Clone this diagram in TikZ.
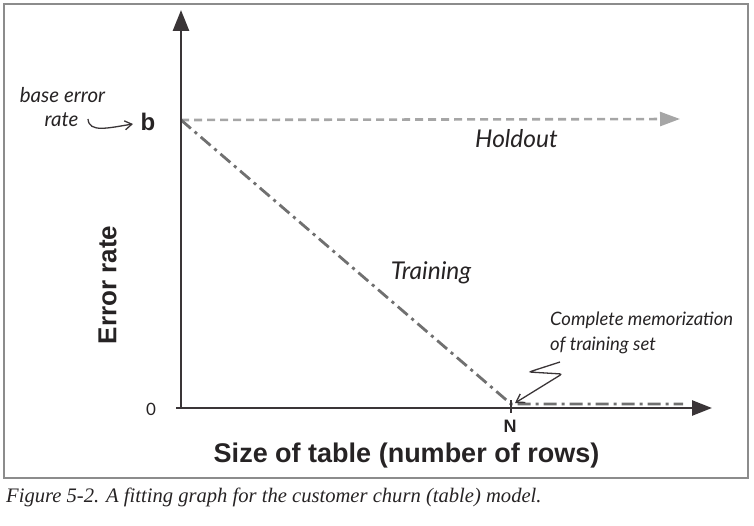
\documentclass[tikz,border=0pt]{standalone}
\usepackage{fontspec}
\setmainfont{Liberation Serif}
\setsansfont{Liberation Sans}
\newfontfamily\gill{Lato}
\usetikzlibrary{arrows.meta}
\definecolor{axiscol}{HTML}{3A3537}
\definecolor{textcol}{HTML}{262324}
\definecolor{traincol}{HTML}{707070}
\definecolor{holdcol}{HTML}{A6A6A6}
\definecolor{framecol}{HTML}{8C8C8C}
\begin{document}
\begin{tikzpicture}[x=1bp,y=-1bp,
  axisline/.style={line width=2.6bp, draw=axiscol},
  trainline/.style={line width=2.8bp, draw=traincol, dash pattern=on 13bp off 5bp on 3bp off 5bp},
  holdline/.style={line width=2.6bp, draw=holdcol, dash pattern=on 8bp off 5bp},
  note/.style={line width=1.3bp, draw=axiscol},
  lbl/.style={inner sep=0pt, anchor=base, text=textcol},
  gilli/.style={lbl, font=\gill\itshape\fontsize{24.5bp}{28bp}\selectfont},
  gills/.style={lbl, font=\gill\itshape\fontsize{18.5bp}{22bp}\selectfont},
  gillb/.style={lbl, font=\gill\itshape\fontsize{20.5bp}{24bp}\selectfont},
  boldlbl/.style={lbl, font=\sffamily\bfseries}
]
\useasboundingbox (0,0) rectangle (754,526);
\draw[framecol, line width=1.3bp] (4,4) rectangle (748,478);

% key points
\coordinate (orig) at (181,408);
\coordinate (ytip) at (181,10);
\coordinate (xstart) at (176,408);
\coordinate (xtip) at (712,408);
\coordinate (bpt) at (181,120);
\coordinate (htip) at (680,119);
\coordinate (npt) at (511,404);
\coordinate (tend) at (683,404);
\coordinate (ntop) at (511,400);
\coordinate (nbot) at (511,413);

% data lines
\draw[holdline, -{Triangle[length=20bp,width=14bp,fill=holdcol]}] (bpt) -- (htip);
\draw[trainline] (bpt) -- (npt) -- (tend);

% axes
\draw[axisline, -{Triangle[length=21bp,width=16bp,fill=axiscol]}] (orig) -- (ytip);
\draw[axisline, -{Triangle[length=20bp,width=15bp,fill=axiscol]}] (xstart) -- (xtip);
\draw[axisline, line width=1.6bp] (ntop) -- (nbot);

% labels
\node[boldlbl, font=\sffamily\bfseries\fontsize{24bp}{28bp}\selectfont] (b) at (148,131) {b};
\node[lbl, font=\gill\fontsize{17bp}{20bp}\selectfont] (zero) at (151,415) {0};
\node[boldlbl, font=\sffamily\bfseries\fontsize{18bp}{22bp}\selectfont] (N) at (510,432) {N};
\node[boldlbl, font=\sffamily\bfseries\fontsize{27bp}{32bp}\selectfont] (xlab) at (406.5,462) {Size of table (number of rows)};
\node[inner sep=0pt, text=textcol, rotate=90, font=\sffamily\bfseries\fontsize{26bp}{30bp}\selectfont] (ylab) at (107.5,285) {Error rate};
\node[gilli] (hold) at (516.5,148) {Holdout};
\node[gilli] (train) at (431,280) {Training};
\node[gills, anchor=base west] (cm1) at (550,325) {Complete memorization};
\node[gills, anchor=base west] (cm2) at (550,350) {of training set};
\node[gillb] (ber1) at (62.5,103) {base error};
\node[gillb] (ber2) at (61.5,127) {rate};

% annotation arrows
\coordinate (ra) at (88,119);
\coordinate (rb) at (133,124);
\draw[note, -{Straight Barb[length=7bp,width=9bp]}] (ra) .. controls (89,133) and (108,128) .. (rb);
\coordinate (sq1) at (560,362);
\coordinate (sq2) at (529,372);
\coordinate (sq3) at (562,374);
\coordinate (sqtip) at (515,403);
\draw[note, rounded corners=2.5bp, -{Straight Barb[length=8bp,width=10bp]}] (sq1) -- (sq2) -- (sq3) -- (sqtip);

% caption
\node[inner sep=0pt, anchor=base west, font=\itshape\fontsize{20.6bp}{24bp}\selectfont, text=textcol] (cap) at (6,502) {Figure 5-2. A fitting graph for the customer churn (table) model.};
\end{tikzpicture}
\end{document}
